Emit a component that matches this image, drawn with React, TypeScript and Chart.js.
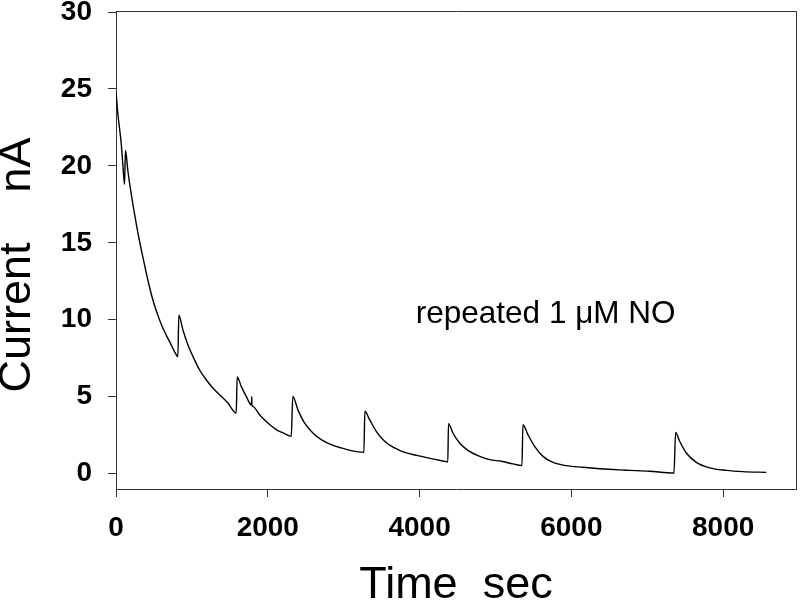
import { useEffect, useRef } from "react";
import { Chart, registerables } from "chart.js";

Chart.register(...registerables);

// Time (s) and current (nA)
const timeSec = [
  0, 24, 68, 90, 112, 125, 156, 200, 244, 287, 353, 419, 485, 551, 617, 705, 793, 815,
  828, 881, 947, 1013, 1100, 1189, 1276, 1364, 1474, 1584,
  1597, 1650, 1716, 1785, 1788, 1791, 1803, 1891, 2001, 2111, 2221, 2309,
  2330, 2396, 2484, 2594, 2705, 2836, 2968, 3100, 3266,
  3279, 3341, 3429, 3539, 3671, 3802, 3978, 4154, 4352, 4372,
  4381, 4439, 4527, 4637, 4769, 4923, 5077, 5230, 5349,
  5362, 5428, 5516, 5626, 5757, 5934, 6153, 6373, 6636, 6768, 7031, 7352,
  7374, 7427, 7515, 7647, 7823, 8043, 8261, 8569,
];
const currentNA = [
  24.8, 23.4, 21.5, 20.1, 18.8, 21.0, 19.7, 18.2, 16.9, 15.7, 14.1, 12.6, 11.3, 10.3, 9.46, 8.59, 7.73, 7.6,
  10.3, 9.35, 8.38, 7.62, 6.75, 6.1, 5.56, 5.13, 4.59, 3.94,
  6.28, 5.67, 5.02, 4.45, 5.0, 4.42, 4.37, 3.83, 3.29, 2.86, 2.6, 2.42,
  5.02, 4.16, 3.29, 2.64, 2.21, 1.88, 1.67, 1.49, 1.38,
  4.05, 3.51, 2.75, 2.1, 1.67, 1.38, 1.17, 0.97, 0.78, 0.76,
  3.25, 2.64, 1.99, 1.51, 1.17, 0.91, 0.8, 0.63, 0.52,
  3.18, 2.53, 1.77, 1.12, 0.73, 0.52, 0.41, 0.32, 0.24, 0.21, 0.15, 0.04,
  2.68, 2.1, 1.34, 0.73, 0.37, 0.21, 0.13, 0.08,
];

const xTicks = [0, 2000, 4000, 6000, 8000];
const yTicks = [0, 5, 10, 15, 20, 25, 30];

const xTitle = "Time  sec";
const yTitle = "Current    nA";
const annotationText = "repeated 1 \u03bcM NO";

const FONT = "Arial, 'Liberation Sans', sans-serif";

export default function App() {
  const canvasRef = useRef<HTMLCanvasElement | null>(null);

  useEffect(() => {
    const canvas = canvasRef.current;
    if (!canvas) return;

    const points = timeSec.map((t, i) => ({ x: t, y: currentNA[i] }));

    const framePlugin = {
      id: "frameAndText",
      afterDraw(chart: any) {
        const { ctx, chartArea, scales } = chart;
        ctx.save();
        // top and right frame
        ctx.strokeStyle = "#333";
        ctx.lineWidth = 1;
        ctx.beginPath();
        ctx.moveTo(chartArea.left, chartArea.top - 0.5);
        ctx.lineTo(chartArea.right + 0.5, chartArea.top - 0.5);
        ctx.lineTo(chartArea.right + 0.5, chartArea.bottom);
        ctx.stroke();

        // annotation
        ctx.fillStyle = "#000";
        ctx.font = `31.5px ${FONT}`;
        ctx.textAlign = "left";
        ctx.textBaseline = "alphabetic";
        ctx.fillText(
          annotationText,
          scales.x.getPixelForValue(3950),
          scales.y.getPixelForValue(9.8)
        );

        // y title
        ctx.translate(17.5, 265);
        ctx.rotate(-Math.PI / 2);
        ctx.font = `45px ${FONT}`;
        ctx.textAlign = "center";
        ctx.textBaseline = "middle";
        ctx.fillText(yTitle, 0, 0);
        ctx.restore();
      },
    };

    const chart = new Chart(canvas, {
      type: "line",
      data: {
        datasets: [
          {
            data: points,
            borderColor: "#000",
            borderWidth: 1.4,
            pointRadius: 0,
            cubicInterpolationMode: "monotone",
            fill: false,
          },
        ],
      },
      options: {
        animation: false,
        responsive: false,
        maintainAspectRatio: false,
        layout: { padding: { top: 12, right: 4, left: 0, bottom: 0 } },
        plugins: {
          legend: { display: false },
          tooltip: { enabled: false },
        },
        scales: {
          x: {
            type: "linear",
            min: 0,
            max: 8960,
            afterFit: (s: any) => {
              s.height = 115;
              s.paddingLeft = 0;
              s.paddingRight = 0;
            },
            afterBuildTicks: (s: any) => {
              s.ticks = xTicks.map((v) => ({ value: v }));
            },
            ticks: {
              autoSkip: false,
              maxRotation: 0,
              padding: 14,
              color: "#000",
              font: { family: FONT, size: 28, weight: "bold" },
              callback: (v: any) => String(v),
            },
            grid: {
              drawOnChartArea: false,
              drawTicks: true,
              tickLength: 8,
              color: "#333",
            },
            border: { display: true, color: "#333", width: 1 },
            title: {
              display: true,
              text: xTitle,
              color: "#000",
              font: { family: FONT, size: 45, lineHeight: 0.8 },
              padding: { top: 0, bottom: 0 },
            },
          },
          y: {
            type: "linear",
            min: -1,
            max: 30,
            afterFit: (s: any) => {
              s.width = 116;
              s.paddingTop = 0;
              s.paddingBottom = 0;
            },
            afterBuildTicks: (s: any) => {
              s.ticks = yTicks.map((v) => ({ value: v }));
            },
            ticks: {
              autoSkip: false,
              padding: 16,
              color: "#000",
              font: { family: FONT, size: 28, weight: "bold" },
              callback: (v: any) => String(v),
            },
            grid: {
              drawOnChartArea: false,
              drawTicks: true,
              tickLength: 8,
              color: "#333",
            },
            border: { display: true, color: "#333", width: 1 },
          },
        },
      },
      plugins: [framePlugin],
    });

    return () => {
      chart.destroy();
    };
  }, []);

  return (
    <div style={{ position: "absolute", left: 0, top: 0, width: 800, height: 604, background: "#fff" }}>
      <canvas ref={canvasRef} width={800} height={604} style={{ display: "block" }} />
    </div>
  );
}
